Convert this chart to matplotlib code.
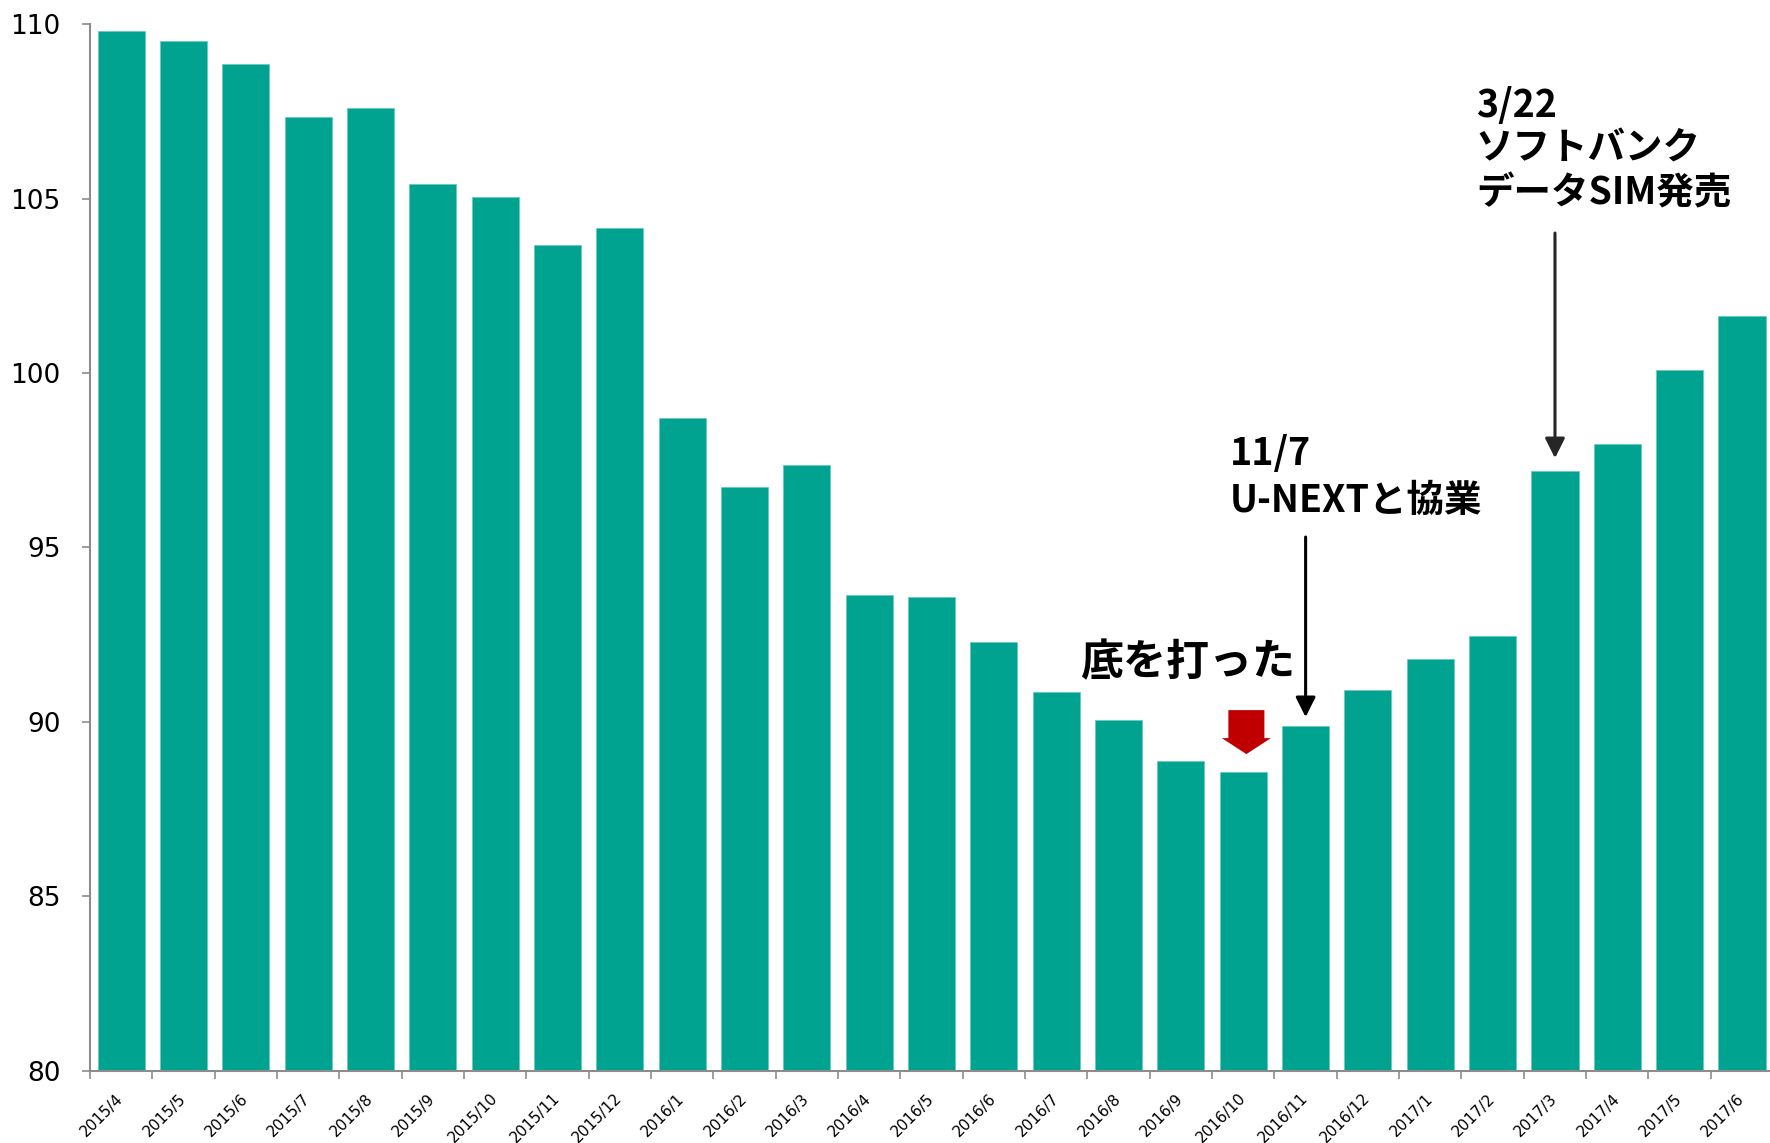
import matplotlib
matplotlib.use("Agg")
import matplotlib.pyplot as plt
import numpy as np

plt.rcParams['font.family'] = ['DejaVu Sans']

months = ['2015/4', '2015/5', '2015/6', '2015/7', '2015/8', '2015/9', '2015/10',
          '2015/11', '2015/12', '2016/1', '2016/2', '2016/3', '2016/4', '2016/5',
          '2016/6', '2016/7', '2016/8', '2016/9', '2016/10', '2016/11', '2016/12',
          '2017/1', '2017/2', '2017/3', '2017/4', '2017/5', '2017/6']
values = [109.8, 109.52, 108.85, 107.33, 107.58, 105.42, 105.03,
          103.67, 104.16, 98.72, 96.72, 97.36, 93.64, 93.58,
          92.29, 90.86, 90.05, 88.89, 88.57, 89.89, 90.93,
          91.80, 92.45, 97.20, 97.96, 100.10, 101.63]
yticks = [80, 85, 90, 95, 100, 105, 110]

bar_color = '#00A390'
axis_gray = '#8C8C8C'
jp_font = ['Noto Sans CJK JP', 'DejaVu Sans']

fig = plt.figure(figsize=(17.7, 11.43), dpi=100)
ax = fig.add_axes([0.0508, 0.063, 0.951, 0.916])

x = np.arange(len(months))
ax.bar(x, values, width=0.755, color=bar_color, edgecolor='#6cc9bd', linewidth=0.6, zorder=2)

ax.set_xlim(-0.5, len(months) - 0.5)
ax.set_ylim(80, 110)
ax.set_yticks(yticks)
ax.set_yticklabels([str(v) for v in yticks], fontsize=19)

ax.set_xticks(x)
ax.set_xticklabels(months, rotation=45, ha='right', va='center', rotation_mode='anchor', fontsize=11)
ax.set_xticks(np.arange(-0.5, len(months), 1.0), minor=True)
ax.tick_params(axis='x', which='major', length=0, pad=18)
ax.tick_params(axis='x', which='minor', length=6, width=1.2, color=axis_gray, direction='out')
ax.tick_params(axis='y', length=6, width=1.2, color=axis_gray, pad=15)

for s in ['top', 'right']:
    ax.spines[s].set_visible(False)
for s in ['left', 'bottom']:
    ax.spines[s].set_color(axis_gray)
    ax.spines[s].set_linewidth(1.5)

# annotations
ax.text(15.39, 91.72, '底を打った', family=jp_font, fontweight='bold', fontsize=31,
        va='center', ha='left', zorder=5)

ax.arrow(18.05, 90.34, 0, -1.26, width=0.578, head_width=0.787, head_length=0.458,
         length_includes_head=True, color='#C00000', linewidth=0, zorder=5)

for txt, yb in [('11/7', 97.36), ('U-NEXTと協業', 96.02)]:
    ax.text(17.78, yb, txt, family=jp_font, fontweight='bold', fontsize=27,
            va='baseline', ha='left', zorder=5)
ax.annotate('', xy=(19, 90.14), xytext=(19, 95.3),
            arrowprops=dict(arrowstyle='-|>,head_length=0.6,head_width=0.3', mutation_scale=20,
                            color='black', lw=2.2, shrinkA=0, shrinkB=0), zorder=5)

for txt, yb in [('3/22', 107.34), ('ソフトバンク', 106.13), ('データSIM発売', 104.84)]:
    ax.text(21.73, yb, txt, family=jp_font, fontweight='bold', fontsize=27,
            va='baseline', ha='left', zorder=5, clip_on=False)
ax.annotate('', xy=(23, 97.56), xytext=(23, 104.01),
            arrowprops=dict(arrowstyle='-|>,head_length=0.6,head_width=0.3', mutation_scale=20,
                            color='#262626', lw=2.2, shrinkA=0, shrinkB=0), zorder=5)

fig.savefig('out.png', dpi=100)
